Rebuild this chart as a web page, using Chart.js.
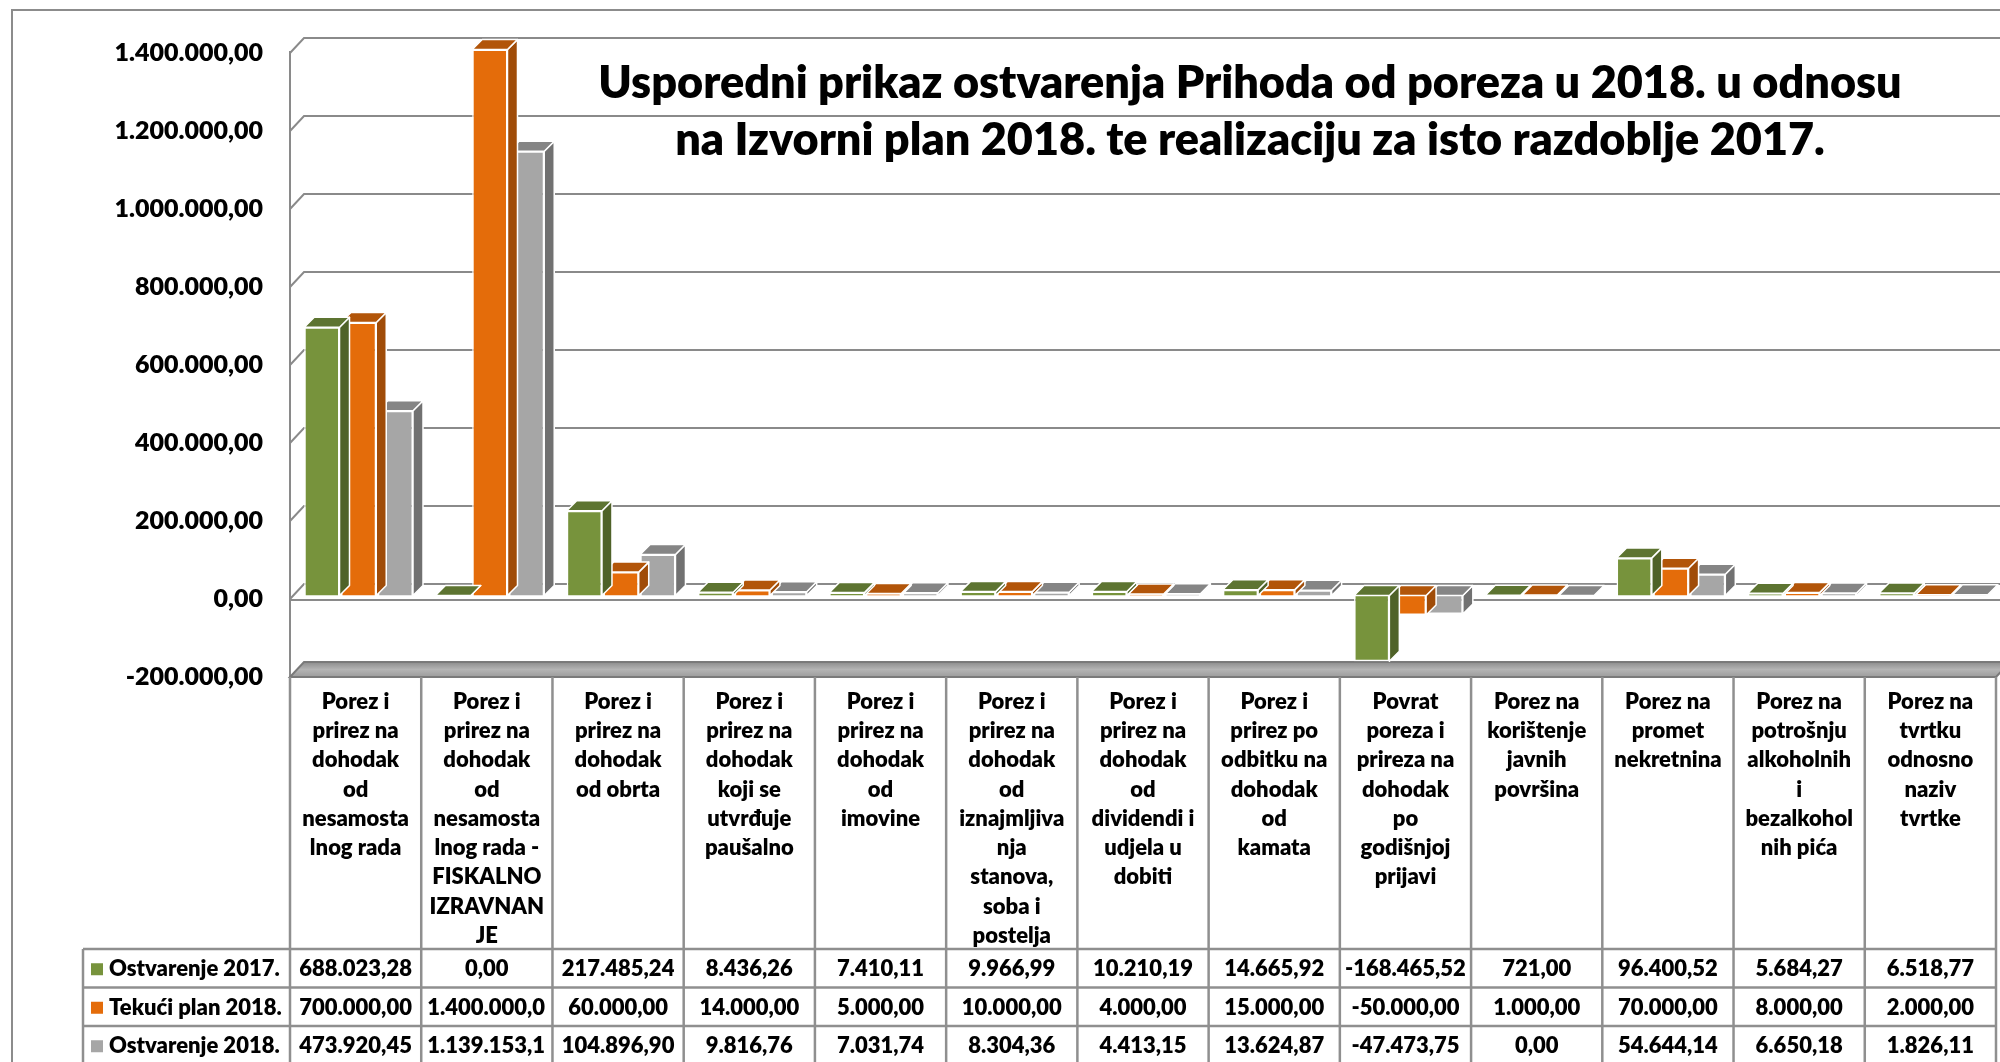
<!DOCTYPE html>
<html>
<head>
<meta charset="utf-8">
<script src="https://cdn.jsdelivr.net/npm/chart.js@4.4.0/dist/chart.umd.min.js"></script>
<style>
  html, body { margin: 0; padding: 0; background: #fff; }
  #wrap { width: 2000px; height: 1062px; position: relative; }
</style>
</head>
<body>
<div id="wrap"><canvas id="chart"></canvas></div>
<script>
// category labels, wrapped the same way as the data table cells
const categories = [
	['Porez i', 'prirez na', 'dohodak', 'od', 'nesamosta', 'lnog rada'],
	['Porez i', 'prirez na', 'dohodak', 'od', 'nesamosta', 'lnog rada -', 'FISKALNO', 'IZRAVNAN', 'JE'],
	['Porez i', 'prirez na', 'dohodak', 'od obrta'],
	['Porez i', 'prirez na', 'dohodak', 'koji se', 'utvrđuje', 'paušalno'],
	['Porez i', 'prirez na', 'dohodak', 'od', 'imovine'],
	['Porez i', 'prirez na', 'dohodak', 'od', 'iznajmljiva', 'nja', 'stanova,', 'soba i', 'postelja'],
	['Porez i', 'prirez na', 'dohodak', 'od', 'dividendi i', 'udjela u', 'dobiti'],
	['Porez i', 'prirez po', 'odbitku na', 'dohodak', 'od', 'kamata'],
	['Povrat', 'poreza i', 'prireza na', 'dohodak', 'po', 'godišnjoj', 'prijavi'],
	['Porez na', 'korištenje', 'javnih', 'površina'],
	['Porez na', 'promet', 'nekretnina'],
	['Porez na', 'potrošnju', 'alkoholnih', 'i', 'bezalkohol', 'nih pića'],
	['Porez na', 'tvrtku', 'odnosno', 'naziv', 'tvrtke']
];

const seriesNames = ['Ostvarenje 2017.', 'Tekući plan 2018.', 'Ostvarenje 2018.'];

const ostvarenje2017 = [688023.28, 0, 217485.24, 8436.26, 7410.11, 9966.99, 10210.19, 14665.92, -168465.52, 721.00, 96400.52, 5684.27, 6518.77];
const tekuciPlan2018 = [700000, 1400000, 60000, 14000, 5000, 10000, 4000, 15000, -50000, 1000, 70000, 8000, 2000];
const ostvarenje2018 = [473920.45, 1139153.10, 104896.90, 9816.76, 7031.74, 8304.36, 4413.15, 13624.87, -47473.75, 0, 54644.14, 6650.18, 1826.11];

const yMin = -200000, yMax = 1400000, yStep = 200000;

const titleLines = [
	'Usporedni prikaz ostvarenja Prihoda od poreza u 2018. u odnosu',
	'na Izvorni plan 2018. te realizaciju za isto razdoblje 2017.'
];

const FONT = 'Lato, Carlito, Calibri, sans-serif';
const WEIGHT = '800';
const frontColors = ['#77933C', '#E46C0A', '#A6A6A6'];
const topColors = ['#5D7431', '#B25509', '#858585'];
const sideColors = ['#4F6228', '#A04C08', '#717171'];
const gridColor = '#8a8a8a';

// hr number format: 1.400.000,00
function fmt(v) {
	const parts = Math.abs(v).toFixed(2).split('.');
	const int = parts[0].replace(/\B(?=(\d{3})+(?!\d))/g, '.');
	return (v < 0 ? '-' : '') + int + ',' + parts[1];
}

function poly(ctx, pts) {
	ctx.beginPath();
	ctx.moveTo(pts[0][0], pts[0][1]);
	for (let i = 1; i < pts.length; i++) ctx.lineTo(pts[i][0], pts[i][1]);
	ctx.closePath();
}

const wallDx = 14, wallDy = 15;   // perspective of back wall
const barDepth = 10;             // depth of a 3d column
const barShift = [3, -3.5];      // columns sit a bit inside the floor

const threeD = {
	id: 'threeD',
	beforeDatasetsDraw(chart) {
		const { ctx, chartArea, scales: { y } } = chart;
		const W = chart.width;
		ctx.save();
		ctx.strokeStyle = gridColor;
		ctx.lineWidth = 2;
		y.ticks.forEach(t => {
			if (t.value === y.min) return;
			const py = y.getPixelForValue(t.value);
			ctx.beginPath();
			ctx.moveTo(chartArea.left, py);
			ctx.lineTo(chartArea.left + wallDx, py - wallDy);
			ctx.lineTo(W, py - wallDy);
			ctx.stroke();
		});
		// front edge of the wall
		ctx.beginPath();
		ctx.moveTo(chartArea.left, y.getPixelForValue(y.max) - 2);
		ctx.lineTo(chartArea.left, chartArea.bottom);
		ctx.stroke();
		// front line at zero
		const y0 = y.getPixelForValue(0);
		ctx.beginPath();
		ctx.moveTo(chartArea.left, y0 + 1);
		ctx.lineTo(W, y0 + 1);
		ctx.stroke();
		// floor slab
		const fb = chartArea.bottom;
		const g = ctx.createLinearGradient(0, fb - wallDy, 0, fb);
		g.addColorStop(0, '#8c8c8c');
		g.addColorStop(0.5, '#b4b4b4');
		g.addColorStop(1, '#9c9c9c');
		ctx.fillStyle = g;
		poly(ctx, [[chartArea.left, fb], [chartArea.left + wallDx, fb - wallDy],
			[chartArea.right + wallDx, fb - wallDy], [chartArea.right, fb]]);
		ctx.fill();
		ctx.strokeStyle = '#7a7a7a';
		ctx.stroke();
		ctx.restore();
	},
	beforeDatasetDraw(chart) {
		chart.ctx.save();
		chart.ctx.translate(barShift[0], barShift[1]);
	},
	afterDatasetDraw(chart, args) {
		const ctx = chart.ctx;
		const i = args.index;
		const d = barDepth;
		ctx.strokeStyle = '#ffffff';
		ctx.lineWidth = 1.5;
		ctx.lineJoin = 'round';
		args.meta.data.forEach(bar => {
			const p = bar.getProps(['x', 'y', 'base', 'width'], true);
			const l = p.x - p.width / 2, r = p.x + p.width / 2;
			const top = Math.min(p.y, p.base), bot = Math.max(p.y, p.base);
			ctx.fillStyle = sideColors[i];
			poly(ctx, [[r, top], [r + d, top - d], [r + d, bot - d], [r, bot]]);
			ctx.fill(); ctx.stroke();
			ctx.fillStyle = topColors[i];
			poly(ctx, [[l, top], [r, top], [r + d, top - d], [l + d, top - d]]);
			ctx.fill(); ctx.stroke();
		});
		ctx.restore();
	},
	afterDraw(chart) {
		const { ctx, chartArea, scales: { x } } = chart;
		ctx.save();

		// outer chart border
		ctx.strokeStyle = '#8c8c8c';
		ctx.lineWidth = 2;
		ctx.beginPath();
		ctx.moveTo(12, chart.height + 5);
		ctx.lineTo(12, 10);
		ctx.lineTo(chart.width + 5, 10);
		ctx.stroke();

		// title
		ctx.fillStyle = '#000';
		ctx.font = WEIGHT + ' 45px ' + FONT;
		ctx.textAlign = 'center';
		ctx.textBaseline = 'alphabetic';
		ctx.fillText(titleLines[0], 1250, 98);
		ctx.fillText(titleLines[1], 1250, 155);

		// data table
		const n = categories.length;
		const colW = x.width / n;
		const tTop = chartArea.bottom;
		const rowTop = [949, 987.5, 1026];
		const rowH = 38.5;
		const legendLeft = 83;
		ctx.strokeStyle = '#8f8f8f';
		ctx.lineWidth = 2.5;
		for (let k = 0; k <= n; k++) {
			const xb = x.left + k * colW;
			ctx.beginPath();
			ctx.moveTo(xb, tTop);
			ctx.lineTo(xb, chart.height);
			ctx.stroke();
		}
		ctx.beginPath();
		ctx.moveTo(legendLeft, rowTop[0]);
		ctx.lineTo(legendLeft, chart.height);
		ctx.stroke();
		rowTop.forEach(yy => {
			ctx.beginPath();
			ctx.moveTo(legendLeft, yy);
			ctx.lineTo(x.right, yy);
			ctx.stroke();
		});

		ctx.font = WEIGHT + ' 22px ' + FONT;
		ctx.textBaseline = 'middle';
		chart.data.datasets.forEach((ds, r) => {
			const cy = rowTop[r] + rowH / 2 + 1;
			ctx.fillStyle = frontColors[r];
			ctx.fillRect(91, cy - 6, 12, 12);
			ctx.fillStyle = '#000';
			ctx.textAlign = 'left';
			ctx.fillText(ds.label, 109, cy);
			ds.data.forEach((v, c) => {
				let txt = fmt(v);
				const cx = x.getPixelForValue(c);
				const cl = cx - colW / 2;
				const avail = colW - 10;
				if (ctx.measureText(txt).width > avail) {
					// cell too narrow: drop trailing characters like the spreadsheet does
					while (txt.length > 1 && ctx.measureText(txt).width > avail) txt = txt.slice(0, -1);
					ctx.textAlign = 'left';
					ctx.fillText(txt, cl + 6, cy);
				} else {
					ctx.textAlign = 'center';
					ctx.fillText(txt, cx, cy);
				}
			});
		});
		ctx.restore();
	}
};

const datasets = [ostvarenje2017, tekuciPlan2018, ostvarenje2018].map((vals, i) => ({
	label: seriesNames[i],
	data: vals,
	backgroundColor: frontColors[i],
	borderColor: '#ffffff',
	borderWidth: 1.5,
	categoryPercentage: 0.84,
	barPercentage: 0.96,
	clip: false
}));

new Chart(document.getElementById('chart'), {
	type: 'bar',
	data: { labels: categories, datasets: datasets },
	options: {
		responsive: true,
		maintainAspectRatio: false,
		animation: false,
		devicePixelRatio: 1,
		layout: { padding: { top: 53, right: 4, left: 0, bottom: 0 } },
		plugins: {
			legend: { display: false },
			tooltip: { enabled: false },
			title: { display: false }
		},
		scales: {
			y: {
				min: yMin,
				max: yMax,
				afterFit(scale) { scale.width = 290; },
				grid: { display: false, drawTicks: false },
				border: { display: false },
				ticks: {
					stepSize: yStep,
					padding: 27,
					color: '#000',
					font: { family: FONT, size: 25, weight: WEIGHT },
					callback: v => fmt(v)
				}
			},
			x: {
				afterFit(scale) { scale.height = 385; },
				grid: { display: false, drawTicks: false },
				border: { display: false },
				ticks: {
					autoSkip: false,
					maxRotation: 0,
					minRotation: 0,
					padding: 10,
					color: '#000',
					font: { family: FONT, size: 22, weight: WEIGHT, lineHeight: 1.33 }
				}
			}
		}
	},
	plugins: [threeD]
});
</script>
</body>
</html>
